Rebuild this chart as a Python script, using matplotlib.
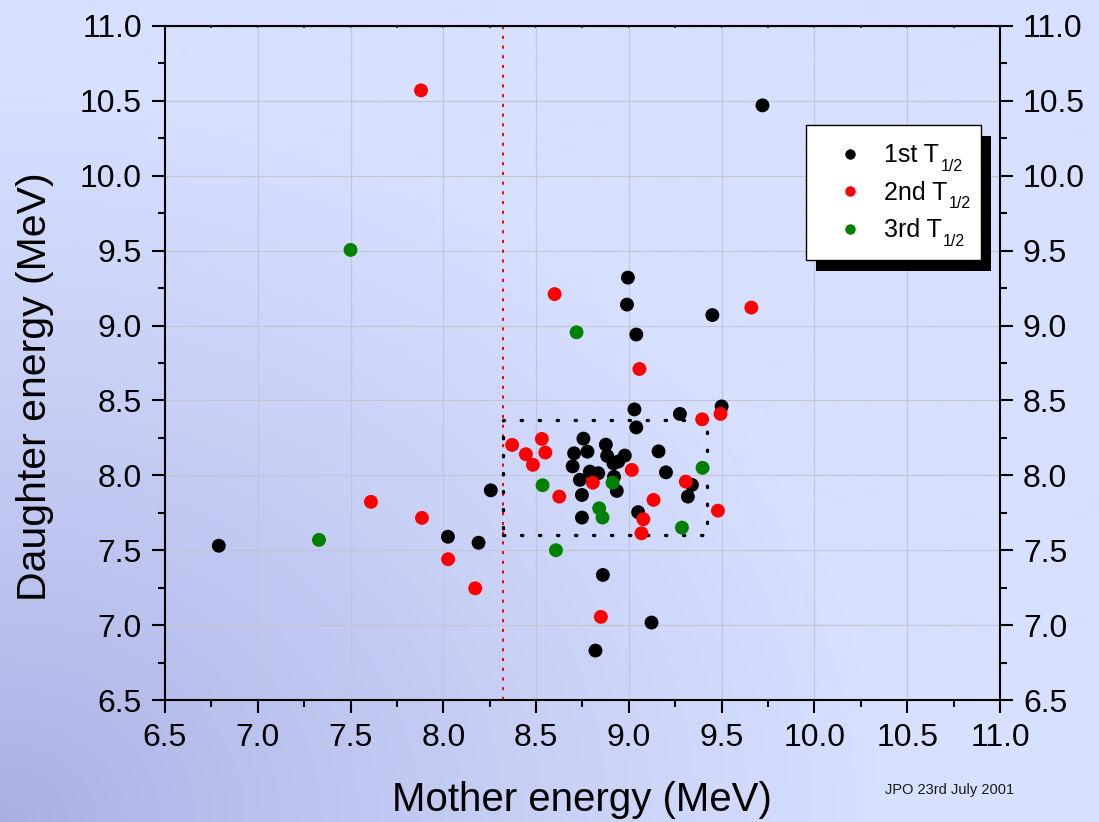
import numpy as np
import matplotlib
matplotlib.use("Agg")
import matplotlib.pyplot as plt
from matplotlib.lines import Line2D
from matplotlib.patches import Rectangle
from matplotlib.ticker import MultipleLocator, FormatStrFormatter

plt.rcParams["font.family"] = ["Liberation Sans", "DejaVu Sans"]

# Mother / daughter alpha energies (MeV), grouped by half-life window
first_x = [6.79, 8.025, 8.19, 8.256, 9.72, 8.995, 8.99, 9.04, 9.45, 9.50,
           9.03, 9.04, 9.275, 8.755, 8.876, 8.705, 8.777, 8.883, 8.978, 8.943,
           9.16, 8.697, 8.79, 8.835, 8.917, 8.92, 9.20, 8.736, 8.935, 8.747,
           9.34, 9.318, 9.05, 8.747, 8.86, 9.122, 8.82]
first_y = [7.53, 7.59, 7.55, 7.90, 10.47, 9.32, 9.14, 8.94, 9.07, 8.46,
           8.44, 8.32, 8.41, 8.245, 8.205, 8.147, 8.158, 8.13, 8.132, 8.092,
           8.16, 8.06, 8.025, 8.014, 8.08, 7.99, 8.02, 7.97, 7.896, 7.869,
           7.936, 7.858, 7.754, 7.718, 7.335, 7.017, 6.83]

second_x = [7.88, 8.60, 9.66, 9.057, 9.395, 9.494, 8.371, 8.531, 8.445, 8.55,
            8.483, 9.016, 8.806, 8.625, 9.307, 9.133, 9.48, 9.078, 9.068,
            7.61, 7.885, 8.026, 8.172, 8.849]
second_y = [10.57, 9.21, 9.12, 8.71, 8.374, 8.41, 8.203, 8.243, 8.141, 8.152,
            8.07, 8.036, 7.951, 7.858, 7.958, 7.836, 7.764, 7.707, 7.613,
            7.823, 7.716, 7.44, 7.246, 7.055]

third_x = [7.50, 8.718, 7.33, 9.397, 8.535, 8.912, 8.84, 8.858, 9.286, 8.607]
third_y = [9.505, 8.955, 7.569, 8.05, 7.934, 7.951, 7.78, 7.718, 7.651, 7.50]

series_labels = ["1st T", "2nd T", "3rd T"]
series_subscript = "1/2"
series_colours = ["black", "#ff0000", "#008000"]

cut_x = 8.32                 # mother energy cut
box_x = [8.32, 9.42]         # selection window
box_y = [7.60, 8.37]

axis_min, axis_max = 6.5, 11.0

fig = plt.figure(figsize=(10.99, 8.22), dpi=100)

# slide-style gradient background, darker towards bottom-left
bg = fig.add_axes([0, 0, 1, 1], zorder=-10)
v, u = np.mgrid[0:1:411j, 0:1:550j]
t = np.clip(np.hypot(u, v * 0.9) / 0.8, 0, 1) ** 0.8
dark = np.array([168, 174, 226]) / 255
light = np.array([215, 224, 255]) / 255
bg.imshow(dark + (light - dark) * t[..., None], extent=[0, 1, 0, 1],
          origin="lower", aspect="auto", interpolation="bilinear")
bg.axis("off")

ax = fig.add_axes([0.1501, 0.1484, 0.7598, 0.8200])
ax.patch.set_alpha(0)

ax.set_xlim(axis_min, axis_max)
ax.set_ylim(axis_min, axis_max)
for axis in (ax.xaxis, ax.yaxis):
    axis.set_major_locator(MultipleLocator(0.5))
    axis.set_minor_locator(MultipleLocator(0.25))
    axis.set_major_formatter(FormatStrFormatter("%.1f"))

ax.grid(which="major", color="#c2c5d2", linewidth=0.8, zorder=0)
ax.set_axisbelow(True)

for sp in ax.spines.values():
    sp.set_linewidth(1.5)
ax.tick_params(which="both", direction="out", width=1.5, labelsize=23,
               left=True, right=True, labelright=True, top=False)
ax.tick_params(which="major", length=9.5)
ax.tick_params(which="minor", length=5)
ax.tick_params(axis="x", pad=7)
ax.tick_params(axis="y", pad=7)

top = ax.secondary_xaxis("top")
top.xaxis.set_major_locator(MultipleLocator(0.5))
top.xaxis.set_minor_locator(MultipleLocator(0.25))
top.tick_params(which="both", direction="in", length=1.5, width=1.2,
                labeltop=False)

ax.axvline(cut_x, color="#ff0000", linewidth=1.4, linestyle=(0, (1.6, 3.4)),
           zorder=2)
ax.plot([box_x[0], box_x[1], box_x[1], box_x[0], box_x[0]],
        [box_y[0], box_y[0], box_y[1], box_y[1], box_y[0]],
        color="black", linewidth=2.4, linestyle=(0, (0.4, 5.0)),
        dash_capstyle="round", zorder=2)

for xs, ys, c, z in zip([first_x, second_x, third_x],
                        [first_y, second_y, third_y],
                        series_colours, [3, 4, 5]):
    ax.scatter(xs, ys, s=100, color=c, edgecolors="none", zorder=z)

# legend panel with hard black drop shadow
lx0, ly0, lw, lh = 0.7677, 0.6528, 0.2095, 0.2003
ax.add_patch(Rectangle((lx0 + 0.012, ly0 - 0.0163), lw, lh,
                       transform=ax.transAxes, facecolor="black",
                       edgecolor="none", zorder=8))
ax.add_patch(Rectangle((lx0, ly0), lw, lh, transform=ax.transAxes,
                       facecolor="white", edgecolor="black", linewidth=1,
                       zorder=9))
handles = [Line2D([], [], linestyle="none", marker="o", markersize=7.5,
                  color=c, markeredgecolor="none") for c in series_colours]
leg = ax.legend(handles, series_labels, loc="upper left",
                bbox_to_anchor=(0.8054, 0.8257), frameon=False, fontsize=18,
                handlelength=1.0, handletextpad=0.86, labelspacing=0.54,
                borderpad=0, borderaxespad=0)
leg.set_zorder(10)
# low-hanging "1/2" subscripts, as on the original slide
for txt in leg.get_texts():
    ax.annotate(series_subscript, xy=(1, 0), xycoords=txt,
                xytext=(1, 1.0), textcoords="offset points",
                fontsize=11.5, ha="left", va="center", zorder=11,
                annotation_clip=False)

fig.text(35 / 1099, 1 - 387 / 822, "Daughter energy (MeV)", rotation=90,
         fontsize=29.5, ha="center", va="center")
fig.text(582 / 1099, 1 - 800 / 822, "Mother energy (MeV)", fontsize=29,
         ha="center", va="center")
fig.text(885 / 1099, 1 - 790 / 822, "JPO 23rd July 2001", fontsize=10.5,
         ha="left", va="center", color="#1a1a1a")

fig.savefig("out.png", dpi=100)
